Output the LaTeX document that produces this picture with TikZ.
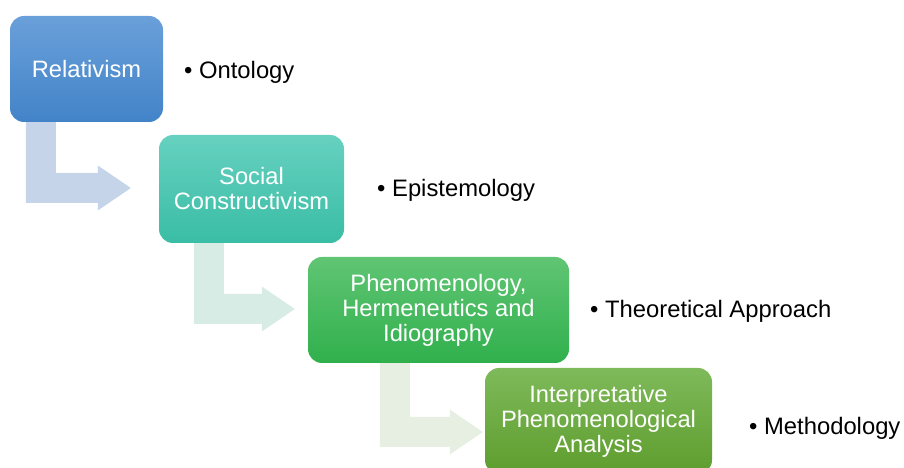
\documentclass[tikz,border=0pt]{standalone}
\usepackage{fontspec}
\setmainfont{Liberation Sans}
\usetikzlibrary{calc,backgrounds}

\definecolor{relTop}{RGB}{106,160,218}
\definecolor{relBot}{RGB}{66,131,200}
\definecolor{socTop}{RGB}{102,209,192}
\definecolor{socBot}{RGB}{58,189,165}
\definecolor{pheTop}{RGB}{96,197,116}
\definecolor{pheBot}{RGB}{48,176,76}
\definecolor{ipaTop}{RGB}{126,186,90}
\definecolor{ipaBot}{RGB}{94,157,46}
\definecolor{arrA}{RGB}{197,212,233}
\definecolor{arrB}{RGB}{214,236,228}
\definecolor{arrC}{RGB}{230,239,226}

\begin{document}
\begin{tikzpicture}[x=1pt,y=1pt,
    stage/.style={rounded corners=14pt,text=white,align=center,inner sep=0pt,
        font=\fontsize{23.7}{25}\selectfont},
    point/.style={anchor=base west,inner sep=0pt,font=\fontsize{23.8}{25}\selectfont}]
    \useasboundingbox (0,0) rectangle (904,468);
    \clip (0,0) rectangle (904,468);

    % stages
    \node[stage,top color=relTop,bottom color=relBot,minimum width=153pt,minimum height=106pt]
        (rel) at (86.5,399) {Relativism};
    \node[stage,top color=socTop,bottom color=socBot,minimum width=185pt,minimum height=108pt]
        (soc) at (251.5,279) {Social\\Constructivism};
    \node[stage,top color=pheTop,bottom color=pheBot,minimum width=261pt,minimum height=106pt]
        (phe) at (438.5,158) {Phenomenology,\\Hermeneutics and\\Idiography};
    \node[stage,top color=ipaTop,bottom color=ipaBot,minimum width=227pt,minimum height=106pt]
        (ipa) at (598.5,47) {Interpretative\\Phenomenological\\Analysis};

    % levels
    \node[point] (ont) at (184,389) {• Ontology};
    \node[point] (epi) at (377,271) {• Epistemology};
    \node[point] (the) at (590,150) {• Theoretical Approach};
    \node[point] (met) at (749,33) {• Methodology};

    % bent arrows
    \begin{scope}[on background layer]
        \foreach \a/\b/\c/\s/\g/\h in {rel/soc/arrA/16/28/1, soc/phe/arrB/35/13/1, phe/ipa/arrC/72/2/-11}
        \fill[\c] ([xshift=\s pt]\a.south west) -- ++(30,0)
            |- ($([xshift=-\g pt,yshift=\h pt]\b.west)+(-33,15)$) -- ++(0,7.5)
            -- ([xshift=-\g pt,yshift=\h pt]\b.west) -- ++(-33,-22.5) -- ++(0,7.5)
            -| ([xshift=\s pt]\a.south west) -- cycle;
    \end{scope}
\end{tikzpicture}
\end{document}
